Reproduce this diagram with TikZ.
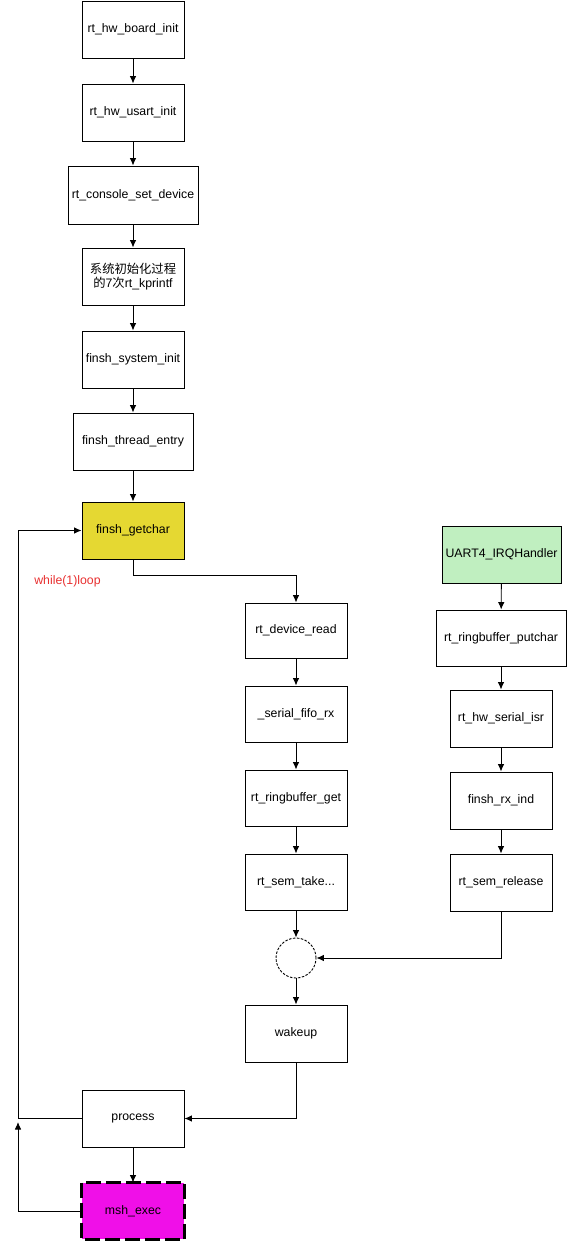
\documentclass[tikz,border=0pt]{standalone}
\usepackage{fontspec}
\setmainfont{Liberation Sans}
\newfontfamily\cjk{Noto Sans CJK SC}
\usetikzlibrary{arrows.meta,calc}
\definecolor{getcharfill}{HTML}{E5D832}
\definecolor{uartfill}{HTML}{C0EFC0}
\definecolor{mshfill}{HTML}{F00FE8}
\definecolor{loopred}{HTML}{E83030}
\tikzset{
  box/.style={draw=black, line width=0.9pt, rectangle, inner sep=0pt, font=\fontsize{12.3}{14}\selectfont, align=center},
  arr/.style={draw=black, line width=0.9pt, -{Latex[length=7.5pt,width=6.5pt]}},
}
\begin{document}
\begin{tikzpicture}[x=1pt,y=-1pt]
\useasboundingbox (0,0) rectangle (567,1241);
% column 1
\node[box,minimum width=102,minimum height=57] (b1) at (133,29.5) {rt\_hw\_board\_init};
\node[box,minimum width=102,minimum height=57] (b2) at (133,112.5) {rt\_hw\_usart\_init};
\node[box,minimum width=130,minimum height=58] (b3) at (133,195) {rt\_console\_set\_device};
\node[box,minimum width=102,minimum height=57] (b4) at (133,276.5) {{\cjk 系统初始化过程}\\{\cjk 的}7{\cjk 次}rt\_kprintf};
\node[box,minimum width=102,minimum height=57] (b5) at (133,359.5) {finsh\_system\_init};
\node[box,minimum width=120,minimum height=57] (b6) at (133,441.5) {finsh\_thread\_entry};
\node[box,fill=getcharfill,minimum width=102,minimum height=57] (g) at (133,530.5) {finsh\_getchar};
\node[box,minimum width=102,minimum height=57] (proc) at (133,1118.5) {process};
\node[box,fill=mshfill,draw=none,minimum width=102,minimum height=56] (msh) at (133,1211) {msh\_exec};
\draw[line width=3pt,dash pattern=on 15pt off 5pt] (msh.north west) rectangle (msh.south east);
% column 2
\node[box,minimum width=102,minimum height=55] (c1) at (296,630.5) {rt\_device\_read};
\node[box,minimum width=102,minimum height=56] (c2) at (296,714) {\_serial\_fifo\_rx};
\node[box,minimum width=102,minimum height=56] (c3) at (296,798) {rt\_ringbuffer\_get};
\node[box,minimum width=102,minimum height=56] (c4) at (296,882) {rt\_sem\_take...};
\node[draw=black,line width=0.9pt,dash pattern=on 2.5pt off 1.5pt,circle,minimum size=40,inner sep=0pt] (circ) at (296,958) {};
\node[box,minimum width=102,minimum height=57] (wk) at (296,1033.5) {wakeup};
% column 3
\node[box,fill=uartfill,minimum width=119,minimum height=57] (u1) at (501.5,554.5) {UART4\_IRQHandler};
\node[box,minimum width=130,minimum height=56] (u2) at (501,638) {rt\_ringbuffer\_putchar};
\node[box,minimum width=102,minimum height=57] (u3) at (501,718.5) {rt\_hw\_serial\_isr};
\node[box,minimum width=102,minimum height=57] (u4) at (501,800.5) {finsh\_rx\_ind};
\node[box,minimum width=102,minimum height=57] (u5) at (501,882.5) {rt\_sem\_release};
% label
\node[text=loopred,font=\fontsize{12.3}{14}\selectfont,inner sep=0pt] (lbl) at (67.5,581) {while(1)loop};
% coordinates
\coordinate (L1) at (18,1118.5);
\coordinate (L2) at (18,1122);
% edges
\draw[arr] (b1) -- (b2);
\draw[arr] (b2) -- (b3);
\draw[arr] (b3) -- (b4);
\draw[arr] (b4) -- (b5);
\draw[arr] (b5) -- (b6);
\draw[arr] (b6) -- (g);
\draw[arr] (g.south) -- ++(0,16) -| (c1.north);
\draw[arr] (c1) -- (c2);
\draw[arr] (c2) -- (c3);
\draw[arr] (c3) -- (c4);
\draw[arr] (c4) -- (circ);
\draw[arr] (circ) -- (wk);
\draw[arr] (u1) -- (u2);
\draw[arr] (u2) -- (u3);
\draw[arr] (u3) -- (u4);
\draw[arr] (u4) -- (u5);
\draw[arr] (u5.south) |- (circ.east);
\draw[arr] (wk.south) |- (proc.east);
\draw[arr] (proc.west) -- (L1) |- (g.west);
\draw[arr] (proc) -- (msh);
\draw[arr] (msh.west) -| (L2);
\end{tikzpicture}
\end{document}
